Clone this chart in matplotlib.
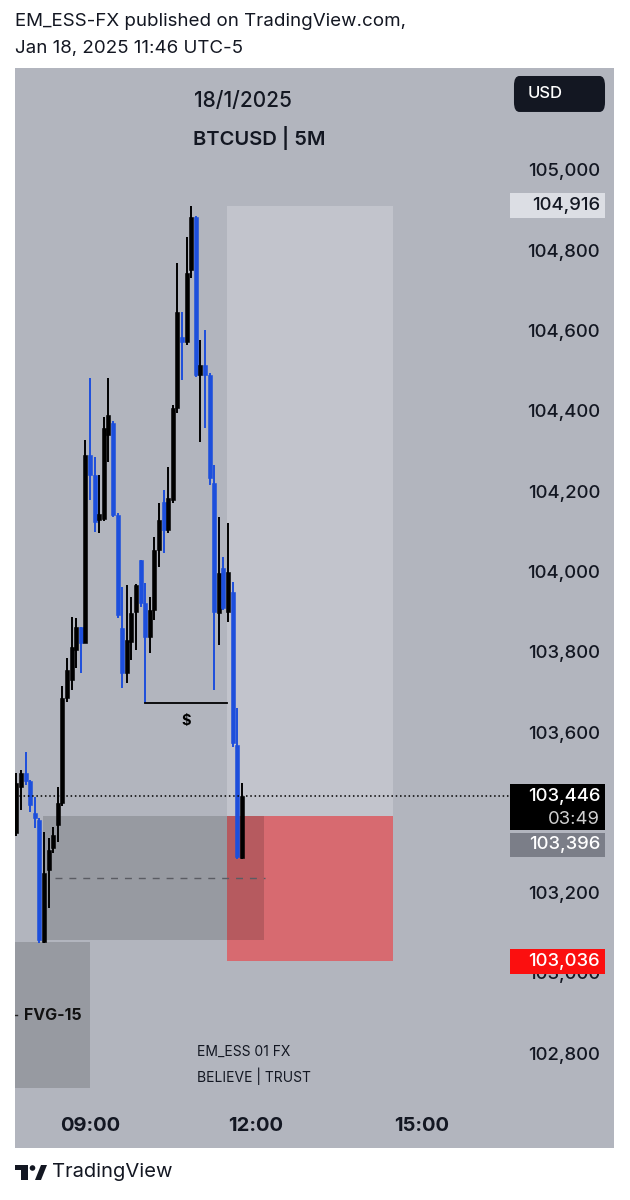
import matplotlib
matplotlib.use("Agg")
import matplotlib.pyplot as plt
import matplotlib.transforms as mtransforms
from matplotlib.patches import Rectangle, FancyBboxPatch, Polygon, Circle

plt.rcParams['font.family'] = ['Inter', 'DejaVu Sans']

# 5 minute bars, index 0 = 09:00
bar_idx = list(range(-16, 34))
opens = [103353, 103468, 103503, 103482, 103403, 103386, 103082, 103261, 103316, 103373,
         103428, 103690, 103735, 103809, 103867, 103827, 104295, 104245, 104133, 104136,
         104345, 104375, 104146, 103864, 103752, 103829, 103904, 104034, 103926, 103842,
         103909, 104058, 104178, 104108, 104183, 104412, 104589, 104577, 104756, 104888,
         104494, 104519, 104494, 104225, 103901, 104014, 103904, 103954, 103573, 103291]
highs = [103502, 103510, 103555, 103485, 103443, 103390, 103356, 103341, 103368, 103468,
         103720, 103790, 103891, 103889, 103867, 104332, 104487, 104290, 104245, 104390,
         104487, 104380, 104150, 103966, 103971, 103941, 103975, 104034, 103976, 103941,
         104091, 104175, 104208, 104265, 104420, 104773, 104651, 104838, 104916, 104890,
         104582, 104606, 104500, 104270, 104141, 104041, 104126, 103979, 103665, 103478]
lows = [103345, 103411, 103473, 103406, 103366, 103080, 103080, 103167, 103303, 103331,
        103420, 103680, 103710, 103765, 103752, 103827, 104183, 104103, 104100, 104130,
        104278, 104140, 103890, 103715, 103727, 103784, 103809, 103916, 103677, 103802,
        103884, 104016, 104051, 104100, 104175, 104400, 104482, 104570, 104736, 104490,
        104327, 104362, 104220, 103710, 103822, 103910, 103879, 103568, 103290, 103289]
closes = [103478, 103503, 103482, 103423, 103391, 103087, 103254, 103311, 103348, 103428,
          103690, 103760, 103817, 103867, 103827, 104295, 104245, 104128, 104148, 104362,
          104395, 104146, 103896, 103752, 103834, 103901, 103971, 103926, 103842, 103909,
          104058, 104133, 104108, 104188, 104412, 104651, 104577, 104748, 104888, 104494,
          104519, 104494, 104238, 103904, 104001, 103914, 104004, 103578, 103294, 103446]

# 103,400 sits under the last-price label, so it is not listed
price_ticks = [105000, 104800, 104600, 104400, 104200, 104000, 103800, 103600,
               103200, 103000, 102800]
time_ticks = [0, 36, 72]
time_labels = ["09:00", "12:00", "15:00"]

last_price = 103446
countdown = "03:49"
entry_price = 103396
target_price = 104916
stop_price = 103036
gap_bottom = 103087
fvg15_top = 103082
fvg15_bottom = 102718
liq_level = 103677

BG = '#b2b5be'
UP = '#000000'
DOWN = '#1d4fdc'
INK = '#131722'
FS = 13.3  # price scale font size

fig = plt.figure(figsize=(6.3, 12), dpi=100)
fig.patch.set_facecolor('white')
ax = fig.add_axes([15 / 630, 1 - 1148 / 1200, 599 / 630, 1080 / 1200])
ax.set_facecolor(BG)
ax.set_xlim(-16.3, 113.9)
ax.set_ylim(102569, 105259)
ax.set_xticks([])
ax.set_yticks([])
for s in ax.spines.values():
    s.set_visible(False)

bt = mtransforms.blended_transform_factory(ax.transAxes, ax.transData)
xt = ax.get_xaxis_transform()

# position tool: target (light) and stop (red)
ax.add_patch(Rectangle((29.8, entry_price), 36.1, target_price - entry_price,
                       facecolor='#c2c4cc', edgecolor='none', zorder=1))
ax.add_patch(Rectangle((29.8, stop_price), 36.1, entry_price - stop_price,
                       facecolor='#d76a70', edgecolor='none', zorder=1))
# gap boxes
ax.add_patch(Rectangle((-10.3, gap_bottom), 48.1, entry_price - gap_bottom,
                       facecolor='black', alpha=0.15, edgecolor='none', zorder=2))
ax.add_patch(Rectangle((-16.3, fvg15_bottom), 16.3, fvg15_top - fvg15_bottom,
                       facecolor='black', alpha=0.15, edgecolor='none', zorder=2))
ax.plot([-7.6, 38], [(entry_price + gap_bottom) / 2] * 2, color='#5a5c63',
        lw=1, ls=(0, (5, 5)), zorder=3)

# candles
for x, o, h, l, c in zip(bar_idx, opens, highs, lows, closes):
    col = UP if c >= o else DOWN
    ax.vlines(x, l, h, color=col, lw=1.4, zorder=4)
    ax.bar(x, max(abs(c - o), 5), bottom=min(o, c), width=0.86, color=col,
           edgecolor=col, linewidth=0.4, zorder=4)

# liquidity line
ax.plot([12, 29.8], [liq_level, liq_level], color='black', lw=1.3, zorder=4)
ax.text(20.9, liq_level - 28, "$", ha='center', va='top', fontsize=10.5,
        fontweight='bold', zorder=4)

ax.text(-8.1, 102900, "FVG-15", ha='center', va='center', fontsize=11.5,
        fontweight='bold', color='#111111', zorder=4)
ax.plot([-16.3, -15.9], [102900, 102900], color='#222222', lw=1, zorder=4)

# current price line
ax.axhline(last_price, xmin=0, xmax=0.826, color='black', lw=1.1,
           ls=(0, (1, 1.8)), zorder=5)

# price scale
for p in price_ticks:
    ax.text(0.977, p, f"{p:,}", transform=bt, ha='right', va='center',
            fontsize=FS, fontweight='medium', color=INK, zorder=6)

lx, lw_ = 0.8264, 0.1586
ax.add_patch(Rectangle((lx, target_price - 31), lw_, 62, transform=bt,
                       facecolor='#dcdee4', edgecolor='none', zorder=7))
ax.text(0.977, target_price, f"{target_price:,}", transform=bt, ha='right',
        va='center', fontsize=FS, fontweight='medium', color=INK, zorder=8)

ax.add_patch(Rectangle((lx, 103361), lw_, 114, transform=bt,
                       facecolor='black', edgecolor='none', zorder=7))
ax.text(0.977, 103444, f"{last_price:,}", transform=bt, ha='right',
        va='center', fontsize=FS, fontweight='medium', color='white', zorder=8)
ax.text(0.977, 103387, countdown, transform=bt, ha='right',
        va='center', fontsize=FS, color='#d0d0d0', zorder=8)

ax.add_patch(Rectangle((lx, 103294), lw_, 60, transform=bt,
                       facecolor='#7b7e88', edgecolor='none', zorder=7))
ax.text(0.977, 103324, f"{entry_price:,}", transform=bt, ha='right',
        va='center', fontsize=FS, fontweight='medium', color='white', zorder=8)

ax.add_patch(Rectangle((lx, stop_price - 34), lw_, 62, transform=bt,
                       facecolor='#fb0f0f', edgecolor='none', zorder=7))
ax.text(0.977, stop_price - 3, f"{stop_price:,}", transform=bt, ha='right',
        va='center', fontsize=FS, fontweight='medium', color='white', zorder=8)

# currency button
ax.add_patch(FancyBboxPatch((0.833, 0.9593), 0.152, 0.0333,
                            boxstyle='round,pad=0,rounding_size=0.009',
                            transform=ax.transAxes, facecolor=INK,
                            edgecolor='none', zorder=7))
ax.text(0.8564, 0.976, "USD", transform=ax.transAxes, ha='left', va='center',
        fontsize=12, fontweight='medium', color='white', zorder=8)

# titles
ax.text(0.299, 0.9694, "18/1/2025", transform=ax.transAxes, ha='left',
        va='center', fontsize=15, fontweight='medium', color=INK)
ax.text(0.297, 0.935, "BTCUSD | 5M", transform=ax.transAxes, ha='left',
        va='center', fontsize=14.5, fontweight='semibold', color=INK)
ax.text(0.304, 0.0889, "EM_ESS 01 FX", transform=ax.transAxes, ha='left',
        va='center', fontsize=10, color=INK)
ax.text(0.304, 0.0667, "BELIEVE | TRUST", transform=ax.transAxes, ha='left',
        va='center', fontsize=10, color=INK)

# time axis
for t, lab in zip(time_ticks, time_labels):
    ax.text(t, 0.0204, lab, transform=xt, ha='center', va='center',
            fontsize=14.5, fontweight='bold', color=INK)

# header and footer (pixel coords from top-left)
px = mtransforms.Affine2D().scale(1 / 630, -1 / 1200).translate(0, 1) + fig.transFigure
fig.text(15, 21, "EM_ESS-FX published on TradingView.com,", transform=px,
         ha='left', va='center', fontsize=13.5, color=INK)
fig.text(15, 48, "Jan 18, 2025 11:46 UTC-5", transform=px,
         ha='left', va='center', fontsize=13.5, color=INK)
fig.text(52, 1172, "TradingView", transform=px, ha='left', va='center',
         fontsize=14.5, color=INK)
fig.patches.extend([
    Rectangle((15, 1165), 13, 5, transform=px, facecolor=INK, edgecolor='none'),
    Rectangle((21, 1165), 7, 15, transform=px, facecolor=INK, edgecolor='none'),
    Circle((32.5, 1168), 2.8, transform=px, facecolor=INK, edgecolor='none'),
    Polygon([(35, 1180), (41, 1180), (47, 1165), (41, 1165)], closed=True,
            transform=px, facecolor=INK, edgecolor='none'),
])

fig.savefig("out.png", dpi=100, facecolor='white')
